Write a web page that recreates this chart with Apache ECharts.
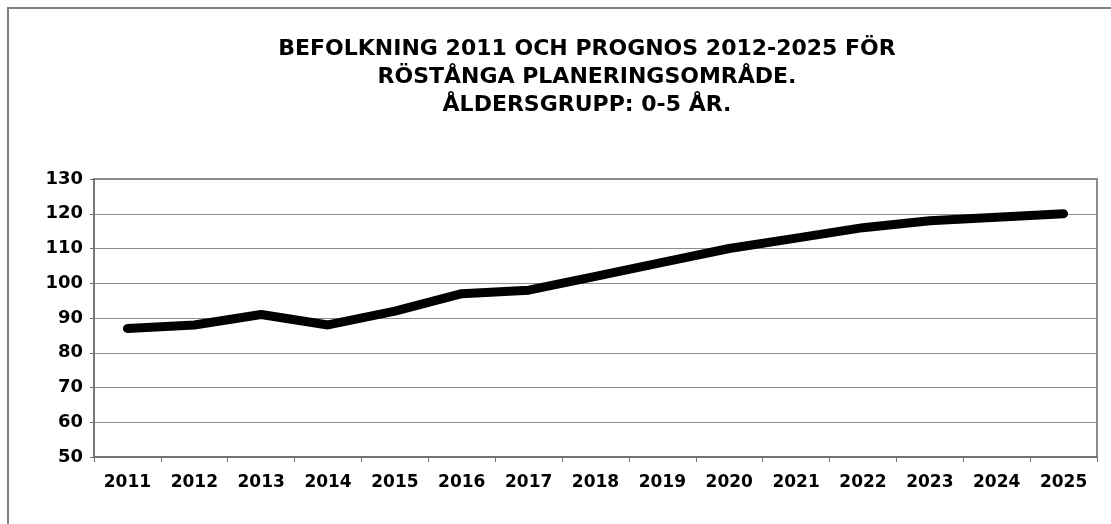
<!DOCTYPE html>
<html>
<head>
<meta charset="utf-8">
<script src="https://cdn.jsdelivr.net/npm/echarts@6/dist/echarts.min.js"></script>
<style>
  html, body { margin: 0; padding: 0; background: #fff; }
  #chart { width: 1111px; height: 524px; }
</style>
</head>
<body>
<div id="chart"></div>
<script>
// years on the x axis
const years = ['2011', '2012', '2013', '2014', '2015', '2016', '2017', '2018',
  '2019', '2020', '2021', '2022', '2023', '2024', '2025'];
// population 0-5 years
const population = [87, 88, 91, 88, 92, 97, 98, 102, 106, 110, 113, 116, 118, 119, 120];
const titleLines = [
  'BEFOLKNING 2011 OCH PROGNOS 2012-2025 FÖR',
  'RÖSTÅNGA PLANERINGSOMRÅDE.',
  'ÅLDERSGRUPP: 0-5 ÅR.'
];

const font = 'DejaVu Sans';
var myChart = echarts.init(document.getElementById('chart'));
const option = {
  animation: false,
  backgroundColor: '#fff',
  graphic: [{
    type: 'rect',
    shape: { x: 8, y: 8, width: 1200, height: 600 },
    style: { fill: 'none', stroke: '#808080', lineWidth: 2 },
    silent: true
  }],
  title: {
    text: titleLines.join('\n'),
    left: 587,
    top: 35,
    padding: 0,
    textAlign: 'center',
    textStyle: {
      fontFamily: font,
      fontWeight: 'bold',
      fontSize: 22,
      lineHeight: 28,
      color: '#000'
    }
  },
  grid: {
    left: 94,
    right: 14,
    top: 179,
    bottom: 67,
    show: true,
    borderColor: '#8a8a8a',
    borderWidth: 2
  },
  xAxis: {
    type: 'category',
    data: years,
    boundaryGap: true,
    axisLine: { lineStyle: { color: '#6e6e6e', width: 1.5 } },
    axisTick: { show: true, length: 5, lineStyle: { color: '#6e6e6e' } },
    axisLabel: {
      margin: 17,
      color: '#000',
      fontFamily: font,
      fontWeight: 'bold',
      fontSize: 17
    }
  },
  yAxis: {
    type: 'value',
    min: 50,
    max: 130,
    interval: 10,
    axisLine: { show: true, lineStyle: { color: '#6e6e6e', width: 1.5 } },
    axisTick: { show: true, length: 4, lineStyle: { color: '#6e6e6e' } },
    splitLine: { lineStyle: { color: '#8c8c8c', width: 1 } },
    axisLabel: {
      margin: 11,
      color: '#000',
      fontFamily: font,
      fontWeight: 'bold',
      fontSize: 18
    }
  },
  series: [{
    type: 'line',
    data: population,
    symbol: 'none',
    lineStyle: { color: '#000', width: 9, cap: 'round', join: 'round' }
  }]
};
myChart.setOption(option);
</script>
</body>
</html>
